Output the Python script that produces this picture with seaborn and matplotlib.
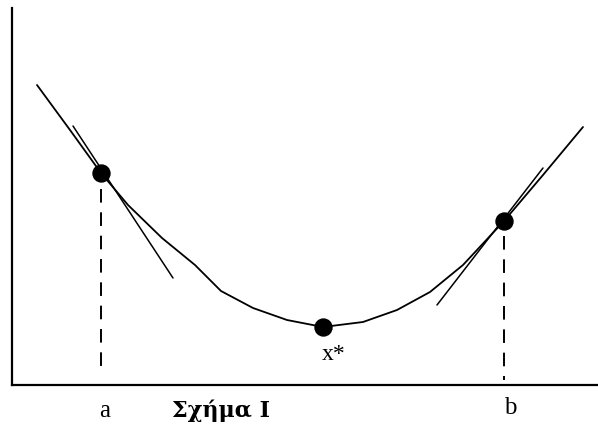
import seaborn as sns
import matplotlib.pyplot as plt
import pandas as pd

# curve f(x)
curve_x = [2.5, 5.8, 8.9, 11.6, 15.0, 18.3, 20.9, 24.1, 27.5, 31.1, 35.1, 38.5, 41.8, 45.1, 49.2, 53.1, 57.1]
curve_y = [30.0, 25.5, 21.2, 18.0, 14.7, 12.0, 9.4, 7.7, 6.5, 5.8, 6.3, 7.5, 9.3, 12.0, 16.4, 21.0, 25.8]

# marked points: a, x*, b
pts_x = [8.9, 31.1, 49.2]
pts_y = [21.2, 5.8, 16.4]

# tangent segments at a and b (end points)
tan_a_x = [6.1, 16.1]
tan_a_y = [25.9, 10.7]
tan_b_x = [42.5, 53.1]
tan_b_y = [8.0, 21.7]

# dashed drop lines
drop_a_y = [19.6, 1.0]
drop_b_y = [14.9, 0.5]

sns.set_style("white")
plt.rcParams["font.family"] = ["Liberation Serif", "DejaVu Serif"]
plt.rcParams["text.color"] = "black"

fig = plt.figure(figsize=(5.98, 4.38), dpi=100)
ax = fig.add_axes([12 / 598, 53 / 438, 586 / 598, 377 / 438])

df = pd.DataFrame({"x": curve_x, "y": curve_y})
sns.lineplot(data=df, x="x", y="y", sort=False, color="black", lw=1.3, ax=ax)

sns.lineplot(x=tan_a_x, y=tan_a_y, color="black", lw=1.1, ax=ax)
sns.lineplot(x=tan_b_x, y=tan_b_y, color="black", lw=1.1, ax=ax)

ax.plot([pts_x[0]] * 2, drop_a_y, color="black", lw=1.4, linestyle=(0, (7, 5)))
ax.plot([pts_x[2]] * 2, drop_b_y, color="black", lw=1.4, linestyle=(0, (7, 5)))

sns.scatterplot(x=pts_x, y=pts_y, color="black", s=150, edgecolor="black", zorder=5, ax=ax)

ax.text(pts_x[0] + 0.4, -2.6, "a", ha="center", va="center", fontsize=18, clip_on=False)
ax.text(pts_x[2] + 0.6, -2.3, "b", ha="center", va="center", fontsize=18, clip_on=False)
ax.text(20.9, -2.6, "Σχήμα I", ha="center", va="center", fontsize=16,
        family="DejaVu Serif", fontweight="bold", clip_on=False)
ax.text(pts_x[1] + 1.1, 3.0, "x*", ha="center", va="center", fontsize=17)

ax.set_xlim(0, 58.6)
ax.set_ylim(0, 37.7)
ax.set_xticks([])
ax.set_yticks([])
ax.set_xlabel("")
ax.set_ylabel("")
for side in ["top", "right"]:
    ax.spines[side].set_visible(False)
for side in ["left", "bottom"]:
    ax.spines[side].set_color("black")
    ax.spines[side].set_linewidth(1.6)

fig.savefig("out.png", dpi=100)
